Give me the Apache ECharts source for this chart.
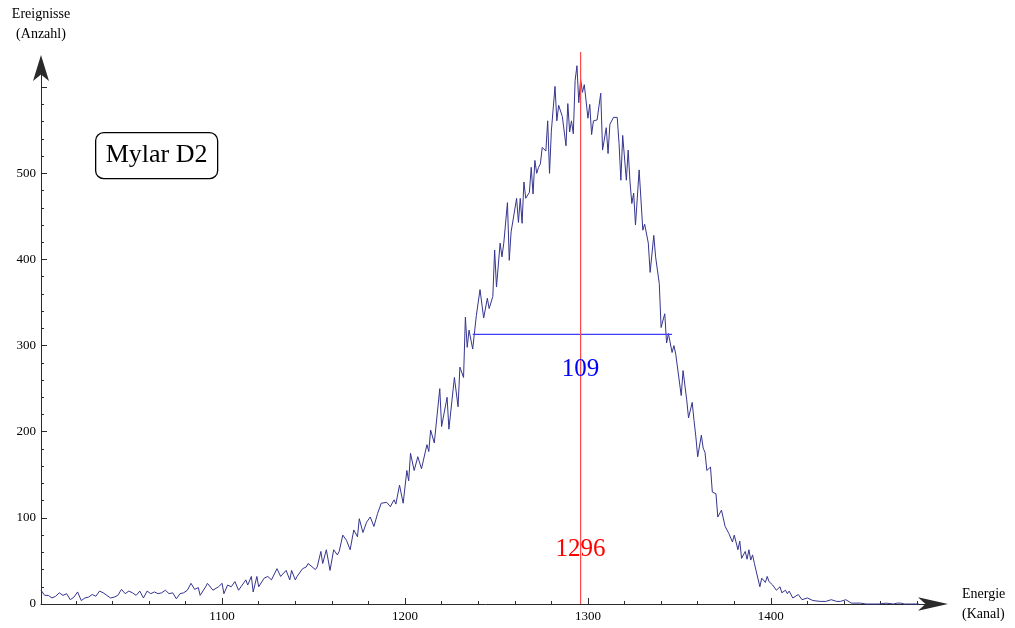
<!DOCTYPE html>
<html>
<head>
<meta charset="utf-8">
<script src="https://cdn.jsdelivr.net/npm/echarts@6/dist/echarts.min.js"></script>
<style>
html, body { margin: 0; padding: 0; background: #ffffff; }
#chart { width: 1015px; height: 628px; }
</style>
</head>
<body>
<div id="chart"></div>
<script>
// Spectrum: channel numbers and recorded counts
const channels = [
  1001,1003,1005,1007,1009,1011,1013,1015,1017,1019,
  1021,1023,1025,1027,1029,1031,1033,1035,1037,1039,
  1041,1043,1045,1047,1049,1051,1053,1055,1057,1059,
  1061,1063,1065,1067,1069,1071,1073,1075,1077,1079,
  1081,1083,1085,1087,1088,1091,1092,1095,1098,1100,
  1101,1103,1105,1107,1109,1111,1113,1114,1116,1117,
  1119,1120,1123,1125,1127,1130,1132,1133,1135,1137,
  1138,1140,1141,1144,1146,1147,1151,1152,1154,1155,
  1157,1159,1161,1163,1164,1166,1168,1170,1172,1174,
  1175,1177,1179,1181,1183,1185,1187,1190,1192,1194,
  1195,1197,1199,1201,1202,1203,1205,1207,1209,1212,
  1213,1214,1216,1219,1220,1223,1224,1227,1229,1230,
  1232,1233,1234,1235,1237,1239,1241,1243,1245,1246,
  1248,1249,1250,1252,1253,1254,1256,1257,1258,1259,
  1261,1262,1263,1264,1265,1266,1268,1269,1270,1271,
  1272,1273,1274,1275,1277,1278,1279,1280,1282,1283,
  1284,1286,1288,1289,1290,1291,1292,1293,1294,1295,
  1296,1297,1298,1299,1300,1301,1302,1303,1305,1307,
  1308,1310,1311,1312,1314,1316,1317,1318,1319,1321,
  1322,1323,1324,1325,1326,1328,1330,1331,1333,1334,
  1336,1337,1339,1340,1342,1343,1344,1346,1347,1348,
  1349,1351,1352,1354,1355,1357,1358,1359,1360,1362,
  1363,1364,1365,1367,1368,1370,1371,1373,1374,1375,
  1377,1379,1380,1382,1383,1384,1386,1387,1388,1389,
  1390,1391,1392,1394,1395,1397,1398,1399,1401,1403,
  1405,1406,1408,1409,1410,1412,1415,1417,1418,1420,
  1423,1427,1430,1433,1436,1438,1441,1444,1449,1452,
  1456,1459,1463,1467,1469,1471,1473,1477,1481
];
const counts = [
  16,10,10,7,9,13,10,12,5,8,
  14,4,7,8,11,9,15,13,10,7,
  8,10,17,12,15,13,10,15,7,15,
  12,14,12,13,16,12,13,6,12,13,
  16,24,17,19,10,20,24,16,20,24,
  12,22,20,26,16,22,28,22,32,14,
  32,20,30,32,28,41,32,34,39,28,
  39,28,32,41,43,47,40,43,61,47,
  63,39,63,57,61,80,74,63,86,78,
  99,83,95,101,90,105,117,118,113,121,
  116,138,117,155,143,175,155,171,157,185,
  177,202,187,250,206,240,203,263,229,275,
  263,333,298,318,296,335,365,332,355,343,
  357,411,368,419,403,419,466,399,432,430,
  471,443,471,442,490,471,478,507,476,515,
  500,507,511,530,526,561,500,549,601,561,
  579,566,532,581,548,561,546,608,625,582,
  609,594,603,584,564,580,545,561,562,593,
  527,553,523,557,565,565,535,492,544,492,
  527,490,465,477,440,504,434,441,419,385,
  428,403,372,321,337,303,314,292,300,290,
  288,242,271,237,216,234,213,194,171,196,
  181,176,155,159,130,128,101,109,109,90,
  82,72,80,63,73,53,61,52,63,51,
  57,47,46,20,30,25,32,26,22,16,
  20,13,16,12,15,7,11,5,3,7,
  4,3,3,5,3,3,5,1,1,0,
  0,0,1,0,1,1,0,0,0
];

// Axis ranges and labelled ticks
const xRange = [1001, 1487];
const yRange = [0, 620];
const xLabelValues = [1100, 1200, 1300, 1400];
const yLabelValues = [0, 100, 200, 300, 400, 500];
const minorStep = 20;

// Peak position and full width at half maximum
const peakChannel = 1296;
const halfMax = 313;
const fwhmLeft = 1237;
const fwhmWidth = 109;
const sampleName = 'Mylar D2';

const SERIF = "'Liberation Serif', 'DejaVu Serif', serif";
const AXIS_COLOR = '#2a2a2a';

function stepValues(lo, hi, step) {
  const out = [];
  for (let v = lo; v <= hi; v += step) out.push(v);
  return out;
}
const xMajorTicks = stepValues(1100, 1400, 100);
const yMajorTicks = stepValues(0, 600, 100);
const xMinorTicks = stepValues(1020, 1480, minorStep);
const yMinorTicks = stepValues(0, 620, minorStep);

const spectrum = channels.map((c, i) => [c, counts[i]]);

const chart = echarts.init(document.getElementById('chart'), null, { renderer: 'canvas' });

const baseX = {
  type: 'value', min: xRange[0], max: xRange[1], gridIndex: 0,
  splitLine: { show: false }, position: 'bottom'
};
const baseY = {
  type: 'value', min: yRange[0], max: yRange[1], gridIndex: 0,
  splitLine: { show: false }, position: 'left'
};

chart.setOption({
  animation: false,
  backgroundColor: '#ffffff',
  grid: { left: 41, top: 70, width: 889, height: 534, outerBoundsMode: 'none', containLabel: false },
  xAxis: [
    Object.assign({}, baseX, {
      name: 'Energie\n(Kanal)',
      nameLocation: 'end',
      nameGap: 32,
      nameTextStyle: { fontFamily: SERIF, fontSize: 14, color: '#000', lineHeight: 20, align: 'left', verticalAlign: 'middle' },
      axisLine: {
        show: true, onZero: false,
        symbol: ['none', 'arrow'], symbolSize: [10, 30], symbolOffset: [0, 18],
        lineStyle: { color: AXIS_COLOR, width: 1 }
      },
      axisTick: { show: true, inside: true, length: 6, customValues: xMajorTicks, lineStyle: { color: AXIS_COLOR } },
      axisLabel: {
        show: true, customValues: xLabelValues, margin: 6,
        formatter: (v) => String(v),
        fontFamily: SERIF, fontSize: 13, color: '#000'
      }
    }),
    Object.assign({}, baseX, {
      axisLine: { show: false },
      axisTick: { show: true, inside: true, length: 3, customValues: xMinorTicks, lineStyle: { color: AXIS_COLOR } },
      axisLabel: { show: false }
    })
  ],
  yAxis: [
    Object.assign({}, baseY, {
      name: 'Ereignisse\n(Anzahl)',
      nameLocation: 'end',
      nameGap: 26,
      nameTextStyle: { fontFamily: SERIF, fontSize: 14, color: '#000', lineHeight: 20, align: 'center' },
      axisLine: {
        show: true, onZero: false,
        symbol: ['none', 'arrow'], symbolSize: [12, 26], symbolOffset: [0, 15],
        lineStyle: { color: AXIS_COLOR, width: 1 }
      },
      axisTick: { show: true, inside: true, length: 6, customValues: yMajorTicks, lineStyle: { color: AXIS_COLOR } },
      axisLabel: {
        show: true, customValues: yLabelValues, margin: 5,
        formatter: (v) => String(v),
        fontFamily: SERIF, fontSize: 13, color: '#000'
      }
    }),
    Object.assign({}, baseY, {
      axisLine: { show: false },
      axisTick: { show: true, inside: true, length: 3, customValues: yMinorTicks, lineStyle: { color: AXIS_COLOR } },
      axisLabel: { show: false }
    })
  ],
  series: [
    {
      name: 'Spektrum', type: 'line', xAxisIndex: 0, yAxisIndex: 0,
      data: spectrum, showSymbol: false, symbol: 'none', clip: false,
      lineStyle: { color: '#35358f', width: 1 }, z: 3
    },
    {
      name: 'FWHM', type: 'line', xAxisIndex: 0, yAxisIndex: 0,
      data: [[fwhmLeft, halfMax], [fwhmLeft + fwhmWidth, halfMax]],
      showSymbol: false, symbol: 'none',
      lineStyle: { color: '#3d3dff', width: 1.2 }, z: 4
    },
    {
      name: 'Peak', type: 'line', xAxisIndex: 0, yAxisIndex: 0,
      data: [[peakChannel, 0], [peakChannel, 641]],
      showSymbol: false, symbol: 'none', clip: false,
      lineStyle: { color: '#ff4b4b', width: 1.2 }, z: 5
    },
    {
      name: 'Beschriftung', type: 'scatter', xAxisIndex: 0, yAxisIndex: 0,
      symbolSize: 0, silent: true, z: 6,
      itemStyle: { opacity: 1 },
      data: [
        { value: [peakChannel, 272], label: { formatter: String(fwhmWidth), color: '#0000ff' } },
        { value: [peakChannel, 63], label: { formatter: String(peakChannel), color: '#ff0000' } }
      ],
      label: {
        show: true, position: 'inside', opacity: 1,
        fontFamily: SERIF, fontSize: 25
      }
    }
  ],
  graphic: [
    {
      type: 'group', left: 95, top: 132,
      children: [
        {
          type: 'rect', shape: { x: 0, y: 0, width: 122, height: 46, r: 8 },
          style: { fill: '#ffffff', stroke: '#000000', lineWidth: 1.3 }
        },
        {
          type: 'text', x: 61, y: 23,
          style: {
            text: sampleName, fontFamily: SERIF, fontSize: 26, fill: '#000000',
            align: 'center', verticalAlign: 'middle'
          }
        }
      ]
    }
  ]
});
</script>
</body>
</html>
